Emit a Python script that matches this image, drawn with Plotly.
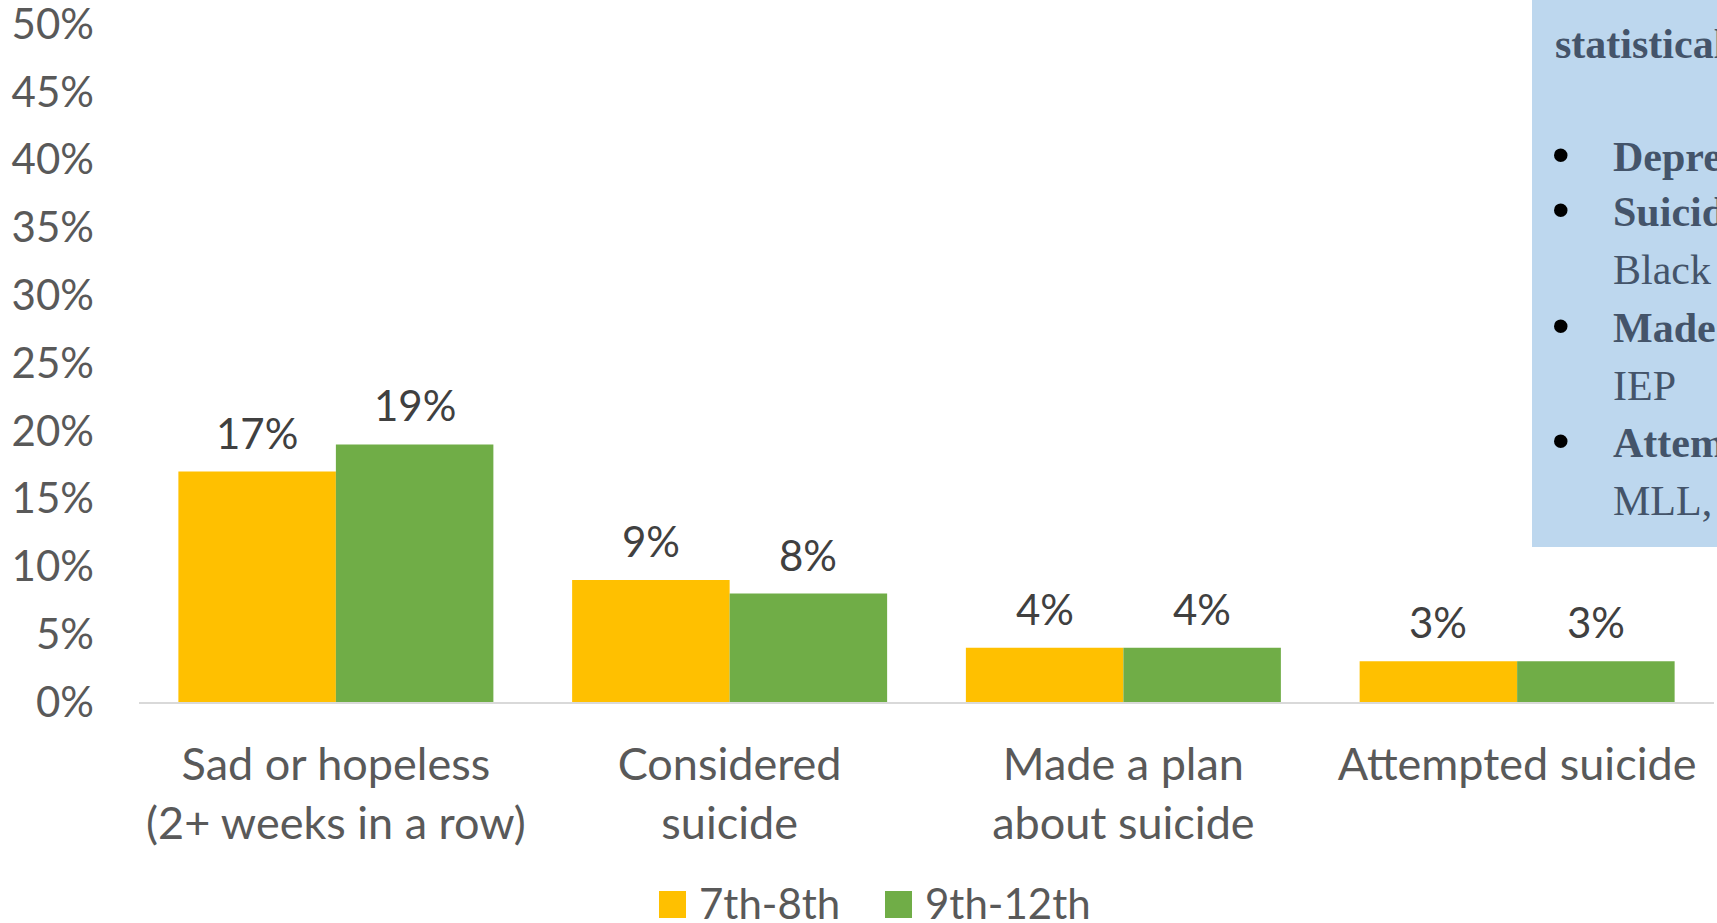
import plotly.graph_objects as go

# --- data -------------------------------------------------------------
categories = [
    "Sad or hopeless<br>(2+ weeks in a row)",
    "Considered<br>suicide",
    "Made a plan<br>about suicide",
    "Attempted suicide",
]
grade_7_8 = [17, 9, 4, 3]
grade_9_12 = [19, 8, 4, 3]
series_names = ["7th-8th", "9th-12th"]
y_ticks = [0, 5, 10, 15, 20, 25, 30, 35, 40, 45, 50]
y_tick_labels = [f"{v}%" for v in y_ticks]

# callout box lines: (bullet?, bold?, text)
callout_lines = [
    (False, True, "statistically"),
    (True, True, "Depression"),
    (True, True, "Suicide"),
    (False, False, "Black"),
    (True, True, "Made a plan"),
    (False, False, "IEP"),
    (True, True, "Attempted"),
    (False, False, "MLL,"),
]

# --- layout geometry ----------------------------------------------------
W, H = 1717, 923
L, R, T, B = 139, 3, 24, 221
PW, PH = W - L - R, H - T - B

YELLOW = "#FFC000"
GREEN = "#70AD47"
AXIS_TXT = "#595959"
LABEL_TXT = "#404040"
FONT = "Lato"
FS = 42


def px_x(x):
    return (x - L) / PW


def px_y(y):
    return (H - B - y) / PH


fig = go.Figure()
for name, vals, col in [(series_names[0], grade_7_8, YELLOW),
                        (series_names[1], grade_9_12, GREEN)]:
    fig.add_trace(go.Bar(
        x=categories, y=vals, name=name,
        marker=dict(color=col, line=dict(width=0)),
        showlegend=False,
    ))

annotations = []
# value labels above each bar
bar_px = PW / len(categories) * 0.8 / 2
for vals, shift in [(grade_7_8, -bar_px / 2), (grade_9_12, bar_px / 2)]:
    for c, v in zip(categories, vals):
        annotations.append(dict(
            x=c, y=v, xref="x", yref="y", text=f"{v}%", showarrow=False,
            xshift=shift, yshift=39, yanchor="middle", xanchor="center",
            font=dict(family=FONT, size=FS, color=LABEL_TXT),
        ))

# legend drawn at the bottom
shapes = []
legend_items = [(series_names[0], YELLOW, 659), (series_names[1], GREEN, 885)]
for name, col, x0 in legend_items:
    shapes.append(dict(
        type="rect", xref="paper", yref="paper",
        x0=px_x(x0), x1=px_x(x0 + 27), y0=px_y(891), y1=px_y(918),
        fillcolor=col, line=dict(width=0),
    ))
    annotations.append(dict(
        x=px_x(x0 + 38), y=px_y(903), xref="paper", yref="paper",
        text=name, showarrow=False, xanchor="left", yanchor="middle",
        font=dict(family=FONT, size=FS, color=AXIS_TXT),
    ))

# callout box on the right
shapes.append(dict(
    type="rect", xref="paper", yref="paper", layer="above",
    x0=px_x(1532), x1=px_x(W + 20), y0=px_y(547), y1=px_y(-20),
    fillcolor="#BDD7EE", line=dict(width=0),
))
line_y = [44, 157, 212, 270, 328, 386, 443, 501]
for (bullet, bold, txt), yy in zip(callout_lines, line_y):
    x_text = 1553 if (not bullet and bold) else 1611
    annotations.append(dict(
        x=px_x(x_text), y=px_y(yy), xref="paper", yref="paper",
        text=f"<b>{txt}</b>" if bold else txt, showarrow=False,
        xanchor="left", yanchor="middle",
        font=dict(family="Liberation Serif", size=FS, color="#44546A"),
    ))
    if bullet:
        annotations.append(dict(
            x=px_x(1561), y=px_y(yy - 2), xref="paper", yref="paper",
            text="•", showarrow=False, xanchor="center", yanchor="middle",
            font=dict(family="Liberation Sans", size=50, color="#000000"),
        ))

fig.update_layout(
    width=W, height=H,
    margin=dict(l=L, r=R, t=T, b=B, pad=0),
    paper_bgcolor="white", plot_bgcolor="white",
    barmode="group", bargap=0.2, bargroupgap=0,
    showlegend=False,
    font=dict(family=FONT, size=FS, color=AXIS_TXT),
    xaxis=dict(
        showline=True, linecolor="#D9D9D9", linewidth=2, automargin=False,
        showgrid=False, ticks="", ticklabelstandoff=22,
        tickfont=dict(family=FONT, size=45, color=AXIS_TXT),
    ),
    yaxis=dict(
        range=[0, 50.01], tickmode="array", tickvals=y_ticks,
        ticktext=y_tick_labels, ticklabeloverflow="allow", automargin=False,
        showgrid=False, showline=False, zeroline=False, ticks="",
        ticklabelstandoff=44,
        tickfont=dict(family=FONT, size=FS, color=AXIS_TXT),
    ),
    shapes=shapes, annotations=annotations,
)

fig.write_html("out.html")
